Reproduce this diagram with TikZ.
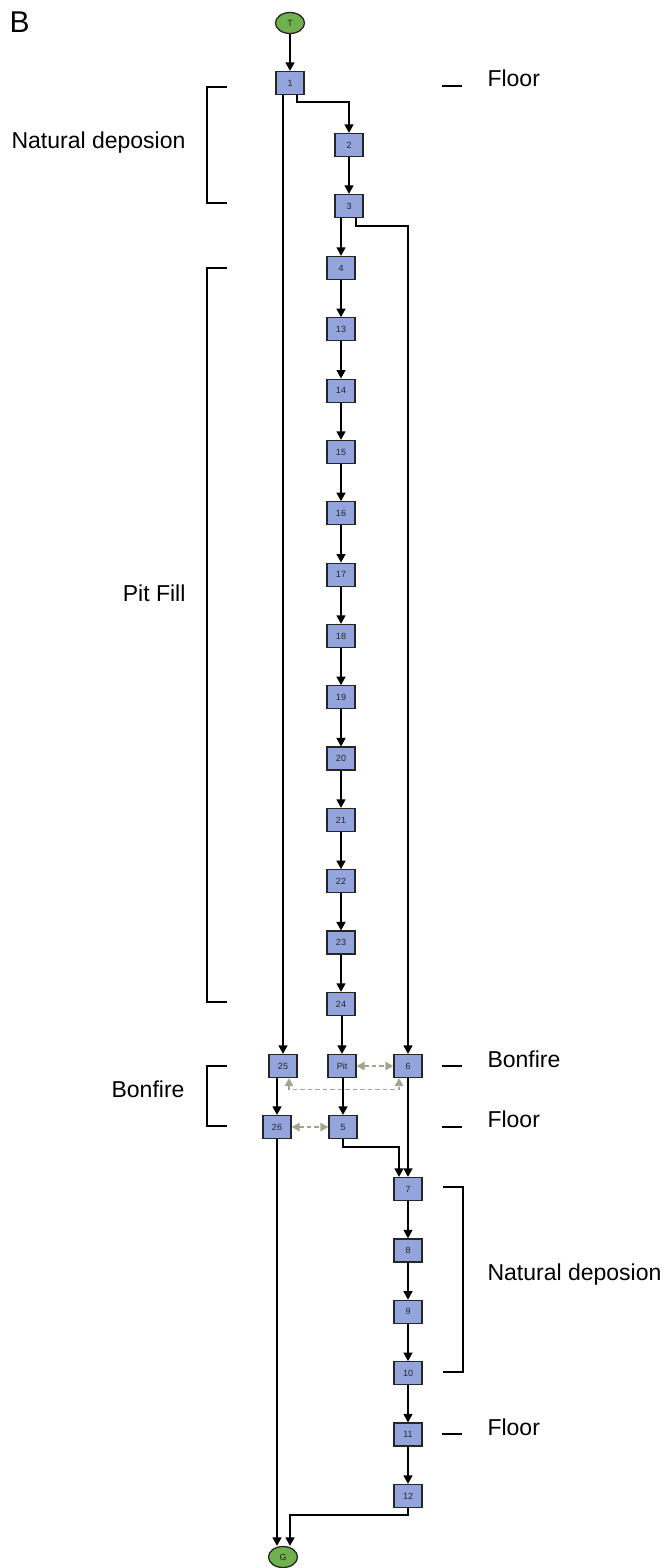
\documentclass[tikz,border=0pt]{standalone}
\usepackage{fontspec}
\setmainfont{Liberation Sans}
\usetikzlibrary{arrows.meta,shapes.geometric}

\definecolor{ctxblue}{RGB}{148,164,220}
\definecolor{endgreen}{RGB}{112,176,78}
\definecolor{linkgray}{RGB}{165,165,142}

\begin{document}
\begin{tikzpicture}[x=1pt,y=-1pt,
    >={Triangle[length=8.5pt,width=9pt]},
    ctx/.style={draw=black!85, line width=1.3pt, fill=ctxblue, minimum width=28pt, minimum height=23pt, inner sep=0pt, text=black!85, font=\fontsize{9}{10}\selectfont},
    term/.style={ellipse, draw=black!85, line width=1.3pt, fill=endgreen, minimum width=29pt, minimum height=21pt, inner sep=0pt, text=black!85, font=\fontsize{9}{10}\selectfont},
    flow/.style={->, line width=1.4pt},
    link/.style={<->, linkgray, line width=1.6pt, dash pattern=on 4.5pt off 3pt, >={Triangle[length=8pt,width=8.5pt]}},
    phase/.style={line width=1.4pt},
    lbl/.style={font=\fontsize{23}{26}\selectfont}]
    \useasboundingbox (0,0) rectangle (668,1568);

    \node[font=\fontsize{30}{32}\selectfont, anchor=base west] (panel) at (6,33) {B};

    % sequence
    \node[term] (T) at (290,23) {T};
    \node[ctx] (n1) at (290,83) {1};
    \node[ctx] (n2) at (349,145) {2};
    \node[ctx] (n3) at (349,206) {3};
    \node[ctx] (n4) at (341,268) {4};
    \foreach \i [count=\k] in {13,...,24}
        \node[ctx] (n\i) at (341,268+61.33*\k) {\i};
    \node[ctx] (n25) at (283,1066) {25};
    \node[ctx] (pit) at (342,1066) {Pit};
    \node[ctx] (n6) at (408,1066) {6};
    \node[ctx] (n26) at (277,1127) {26};
    \node[ctx] (n5) at (343,1127) {5};
    \foreach \i [count=\k from 0] in {7,...,12}
        \node[ctx] (n\i) at (408,1189+61.4*\k) {\i};
    \node[term] (G) at (283,1557) {G};

    \draw[flow] (T) -- (n1);
    \draw[flow] ([xshift=7pt]n1.south) -- ++(0,7) -| (n2.north);
    \draw[flow] ([xshift=-7pt]n1.south) -- (n25.north);
    \draw[flow] (n2) -- (n3);
    \draw[flow] (n3.south -| n4) -- (n4);
    \draw[flow] ([xshift=7pt]n3.south) -- ++(0,8) -| (n6.north);
    \draw[flow] (n4) -- (n13);
    \foreach \i [evaluate=\i as \j using int(\i+1)] in {13,...,23}
        \draw[flow] (n\i) -- (n\j);
    \draw[flow] (n24.south -| pit) -- (pit);
    \draw[flow] (n25.south -| n26) -- (n26);
    \draw[flow] (pit.south -| n5) -- (n5);
    \draw[flow] (n5.south) -- ++(0,8) -| ([xshift=-9pt]n7.north);
    \draw[flow] (n6) -- (n7);
    \foreach \i [evaluate=\i as \j using int(\i+1)] in {7,...,11}
        \draw[flow] (n\i) -- (n\j);
    \draw[flow] (n26) -- (n26 |- G.north);
    \draw[flow] (n12.south) -- ++(0,7) -| ([xshift=7pt]G.north);

    % contemporary contexts
    \draw[link] (pit) -- (n6);
    \draw[link] (n26) -- (n5);
    \draw[link] ([xshift=6pt]n25.south) -- ++(0,11.5) -| ([xshift=-9pt]n6.south);

    % phases, left
    \draw[phase] (227,87) -- (207,87) -- (207,203) -- (227,203);
    \node[lbl, anchor=base east] (ndA) at (189,148) {Natural deposion};
    \draw[phase] (227,268) -- (207,268) -- (207,1002) -- (227,1002);
    \node[lbl, anchor=base east] (fill) at (189,601) {Pit Fill};
    \draw[phase] (227,1066) -- (207,1066) -- (207,1126) -- (227,1126);
    \node[lbl, anchor=base east] (bonA) at (188,1097) {Bonfire};

    % phases, right
    \draw[phase] (442,86) -- (462,86);
    \node[lbl, anchor=base west] (floorA) at (484,87) {Floor};
    \draw[phase] (442,1066) -- (462,1066);
    \node[lbl, anchor=base west] (bonB) at (484,1067) {Bonfire};
    \draw[phase] (442,1127) -- (462,1127);
    \node[lbl, anchor=base west] (floorB) at (484,1127) {Floor};
    \draw[phase] (443,1187) -- (463,1187) -- (463,1372) -- (443,1372);
    \node[lbl, anchor=base west] (ndB) at (484,1280) {Natural deposion};
    \draw[phase] (442,1434) -- (462,1434);
    \node[lbl, anchor=base west] (floorC) at (484,1435) {Floor};
\end{tikzpicture}
\end{document}
